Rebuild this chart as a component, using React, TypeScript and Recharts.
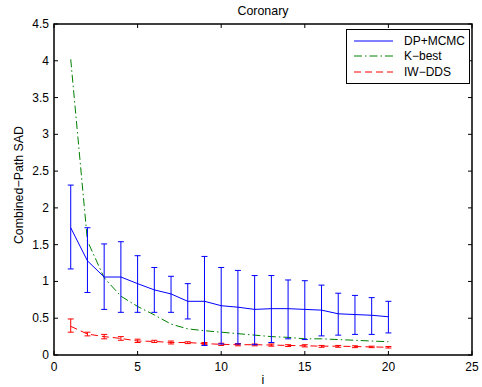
import { LineChart, Line, XAxis, YAxis, ErrorBar, ReferenceArea, Legend } from "recharts"

const iters = [1, 2, 3, 4, 5, 6, 7, 8, 9, 10, 11, 12, 13, 14, 15, 16, 17, 18, 19, 20]

const dpMean = [1.73, 1.28, 1.06, 1.06, 0.97, 0.885, 0.83, 0.73, 0.73, 0.67, 0.65, 0.62, 0.63, 0.63, 0.62, 0.61, 0.56, 0.55, 0.54, 0.52]
const dpHigh = [2.31, 1.73, 1.51, 1.54, 1.35, 1.19, 1.07, 0.97, 1.34, 1.19, 1.15, 1.08, 1.08, 1.02, 1.01, 0.95, 0.84, 0.81, 0.78, 0.73]
const dpLow = [1.17, 0.85, 0.62, 0.58, 0.58, 0.58, 0.58, 0.49, 0.13, 0.15, 0.15, 0.14, 0.17, 0.22, 0.21, 0.26, 0.27, 0.28, 0.28, 0.3]

const kBest = [4.02, 1.55, 1.05, 0.8, 0.66, 0.545, 0.42, 0.355, 0.33, 0.31, 0.29, 0.27, 0.25, 0.24, 0.22, 0.22, 0.21, 0.2, 0.19, 0.18]

const iwMean = [0.39, 0.285, 0.25, 0.225, 0.19, 0.185, 0.17, 0.17, 0.155, 0.145, 0.14, 0.14, 0.135, 0.13, 0.125, 0.12, 0.12, 0.115, 0.11, 0.105]
const iwHigh = [0.49, 0.31, 0.28, 0.25, 0.215, 0.2, 0.19, 0.18, 0.17, 0.16, 0.155, 0.15, 0.15, 0.14, 0.14, 0.13, 0.13, 0.125, 0.12, 0.115]
const iwLow = [0.31, 0.26, 0.22, 0.2, 0.17, 0.17, 0.15, 0.155, 0.14, 0.13, 0.125, 0.125, 0.12, 0.115, 0.11, 0.105, 0.105, 0.1, 0.1, 0.095]

const xTicks = [0, 5, 10, 15, 20, 25]
const yTicks = [0, 0.5, 1, 1.5, 2, 2.5, 3, 3.5, 4, 4.5]

const seriesNames = ["DP+MCMC", "K\u2212best", "IW\u2212DDS"]

const data = iters.map((x, i) => ({
  x,
  dp: dpMean[i],
  dpErr: [dpMean[i] - dpLow[i], dpHigh[i] - dpMean[i]],
  kb: kBest[i],
  iw: iwMean[i],
  iwErr: [iwMean[i] - iwLow[i], iwHigh[i] - iwMean[i]],
}))

const FONT = "'Liberation Sans', Arial, Helvetica, sans-serif"
const PLOT = { left: 54, right: 472, top: 24, bottom: 355 }
const TICK_LEN = 4

const legendItems = [
  { name: seriesNames[0], color: "#0000ff", dash: undefined },
  { name: seriesNames[1], color: "#008000", dash: "8 3 1.5 3" },
  { name: seriesNames[2], color: "#ff0000", dash: "7 4" },
]

function XTick(props: any) {
  const { x, payload } = props
  return (
    <g>
      <line x1={x} x2={x} y1={PLOT.bottom} y2={PLOT.bottom - TICK_LEN} stroke="#000" />
      <line x1={x} x2={x} y1={PLOT.top} y2={PLOT.top + TICK_LEN} stroke="#000" />
      <text x={x} y={PLOT.bottom + 16} textAnchor="middle" fontSize={12} fontFamily={FONT} fill="#000">
        {payload.value}
      </text>
    </g>
  )
}

function YTick(props: any) {
  const { y, payload } = props
  return (
    <g>
      <line x1={PLOT.left} x2={PLOT.left + TICK_LEN} y1={y} y2={y} stroke="#000" />
      <line x1={PLOT.right} x2={PLOT.right - TICK_LEN} y1={y} y2={y} stroke="#000" />
      <text x={PLOT.left - 5} y={y + 4} textAnchor="end" fontSize={12} fontFamily={FONT} fill="#000">
        {payload.value}
      </text>
    </g>
  )
}

function renderLegend() {
  return (
    <div
      style={{
        border: "1px solid #000",
        background: "#fff",
        width: 122,
        padding: "3px 0 3px 0",
        fontFamily: FONT,
        fontSize: 12,
        color: "#000",
      }}
    >
      {legendItems.map((item) => (
        <div key={item.name} style={{ display: "flex", alignItems: "center", height: 15.5 }}>
          <svg width={50} height={10} style={{ marginLeft: 7 }}>
            <line x1={0} x2={39} y1={5} y2={5} stroke={item.color} strokeDasharray={item.dash} />
          </svg>
          <span>{item.name}</span>
        </div>
      ))}
    </div>
  )
}

export default function App() {
  const yLabelY = 185
  return (
    <div style={{ position: "absolute", left: 0, top: 0, width: 482, height: 387, background: "#fff" }}>
      <div
        style={{
          position: "absolute",
          left: PLOT.left,
          width: PLOT.right - PLOT.left,
          top: 4,
          textAlign: "center",
          fontFamily: FONT,
          fontSize: 12.4,
          lineHeight: "15px",
        }}
      >
        Coronary
      </div>
      <LineChart width={482} height={387} data={data} margin={{ top: PLOT.top, right: 482 - PLOT.right, bottom: 0, left: 0 }}>
        <XAxis
          dataKey="x"
          type="number"
          domain={[0, 25]}
          ticks={xTicks}
          axisLine={false}
          tickLine={false}
          tick={<XTick />}
          height={387 - PLOT.bottom}
          label={{
            content: () => (
              <text x={(PLOT.left + PLOT.right) / 2} y={384} textAnchor="middle" fontSize={12.4} fontFamily={FONT} fill="#000">
                i
              </text>
            ),
          }}
        />
        <YAxis
          type="number"
          domain={[0, 4.5]}
          ticks={yTicks}
          axisLine={false}
          tickLine={false}
          tick={<YTick />}
          width={PLOT.left}
          label={{
            content: () => (
              <text
                x={23}
                y={yLabelY}
                transform={`rotate(-90 23 ${yLabelY})`}
                textAnchor="middle"
                fontSize={12.4}
                fontFamily={FONT}
                fill="#000"
              >
                Combined{"\u2212"}Path SAD
              </text>
            ),
          }}
        />
        <ReferenceArea x1={0} x2={25} y1={0} y2={4.5} fill="none" fillOpacity={0} stroke="#000" strokeWidth={1.5} />
        <Line
          dataKey="kb"
          name={seriesNames[1]}
          stroke="#008000"
          strokeDasharray="8 3 1.5 3"
          dot={false}
          type="linear"
          isAnimationActive={false}
        />
        <Line dataKey="iw" name={seriesNames[2]} stroke="#ff0000" strokeDasharray="7 4" dot={false} type="linear" isAnimationActive={false}>
          <ErrorBar dataKey="iwErr" width={3} stroke="#ff0000" strokeWidth={1} direction="y" isAnimationActive={false} />
        </Line>
        <Line dataKey="dp" name={seriesNames[0]} stroke="#0000ff" dot={false} type="linear" isAnimationActive={false}>
          <ErrorBar dataKey="dpErr" width={3} stroke="#0000ff" strokeWidth={1} direction="y" isAnimationActive={false} />
        </Line>
        <Legend
          layout="vertical"
          align="center"
          verticalAlign="middle"
          content={renderLegend}
          wrapperStyle={{ left: 346, top: 29, width: 124 }}
        />
      </LineChart>
    </div>
  )
}
